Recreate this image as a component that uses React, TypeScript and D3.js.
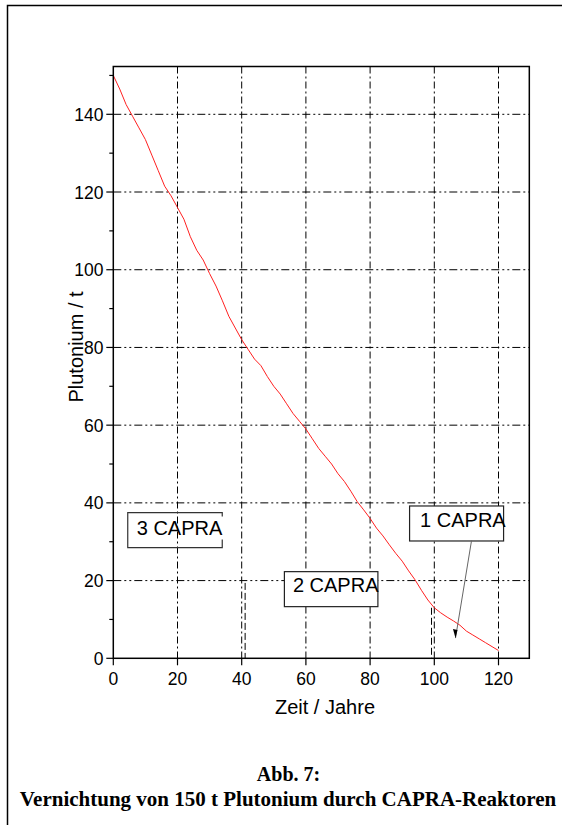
import React from "react";
import * as d3 from "d3";

const years = [0,2,4,6,8,10,12,14,16,18,20,22,24,26,28,30,32,34,36,38,40,42,44,46,48,50,52,54,56,58,60,62,64,66,68,70,72,74,76,78,80,82,84,86,88,90,92,94,96,98,100,102,104,106,108,110,112,114,116,118,120];
const plutonium = [150,146.5,142.5,139.5,136.5,133.5,129.5,125.5,121.5,119,116,113,108.5,105,102.5,99,95.8,92,88,85,82,79.5,77,75.3,72.5,70,68,65.5,63,61,59,56.5,54,52,50,47.5,45.5,43,40.3,38.2,36,33.5,31.5,29.2,27,25,22.5,20.2,17.5,15,13,11.7,10.6,9.6,8.5,7,6,5,4,3,2];
const xTicks = [0,20,40,60,80,100,120];
const yTicks = [0,20,40,60,80,100,120,140];
const yMinor = [10,30,50,70,90,110,130,150];
const gridX = [20,40,60,80,100,120];
const gridY = [20,40,60,80,100,120,140];
const labels = [
  { text: "3 CAPRA", x: 4.5, y: 37.5 },
  { text: "2 CAPRA", x: 53.3, y: 22.3 },
  { text: "1 CAPRA", x: 92.3, y: 39.2 },
];
const boundaries = [40.6, 99.6];

const sans = "'Liberation Sans', Arial, sans-serif";
const serif = "'Liberation Serif', 'Times New Roman', serif";

export default function App() {
  const x = d3.scaleLinear().domain([0, 120]).range([113.3, 498.5]);
  const y = d3.scaleLinear().domain([0, 140]).range([658.3, 114.3]);
  const left = x(0), right = x(129.6), bottom = y(0), top = y(152.3);
  const line = d3.line<number>().x((_, i) => x(years[i])).y((d) => y(d));
  const path = line(plutonium) || "";

  const b3x = x(labels[0].x), b3y = y(labels[0].y);

  return (
    <svg width={562} height={825} style={{ position: "absolute", left: 0, top: 0, background: "#fff" }}>
      <rect x={7.5} y={5.5} width={700} height={900} fill="none" stroke="#000" strokeWidth={1.5} />
      {/* grid */}
      {gridX.map((v) => (
        <line key={"gx" + v} x1={x(v)} x2={x(v)} y1={top} y2={bottom} stroke="#000" strokeWidth={1} strokeDasharray="7,3,2,3" />
      ))}
      {gridY.map((v) => (
        <line key={"gy" + v} x1={left} x2={right} y1={y(v)} y2={y(v)} stroke="#000" strokeWidth={1} strokeDasharray="8,3,2,3,2,3" />
      ))}
      {/* boundary markers */}
      <line x1={x(boundaries[0]) + 1.5} x2={x(boundaries[0]) + 1.5} y1={y(19.4)} y2={bottom} stroke="#000" strokeWidth={1} strokeDasharray="7,3" />
      <line x1={x(boundaries[1]) - 1.5} x2={x(boundaries[1]) - 1.5} y1={y(13)} y2={bottom} stroke="#000" strokeWidth={1} strokeDasharray="7,3" />
      {/* curve */}
      <path d={path} fill="none" stroke="#ff2020" strokeWidth={1} />
      {/* frame */}
      <rect x={left} y={top} width={right - left} height={bottom - top} fill="none" stroke="#000" strokeWidth={1.5} />
      {/* y ticks */}
      {yTicks.map((v) => (
        <g key={"yt" + v}>
          <line x1={left - 7} x2={left} y1={y(v)} y2={y(v)} stroke="#000" strokeWidth={1.2} />
          <text x={103.5} y={y(v) + 6.5} textAnchor="end" fontFamily={sans} fontSize={17.5}>{v}</text>
        </g>
      ))}
      {yMinor.map((v) => (
        <line key={"ym" + v} x1={left - 4} x2={left} y1={y(v)} y2={y(v)} stroke="#000" strokeWidth={1.2} />
      ))}
      {/* x ticks */}
      {xTicks.map((v) => (
        <g key={"xt" + v}>
          <line x1={x(v)} x2={x(v)} y1={bottom} y2={bottom + 7} stroke="#000" strokeWidth={1.2} />
          <text x={x(v)} y={684.5} textAnchor="middle" fontFamily={sans} fontSize={17.5}>{v}</text>
        </g>
      ))}
      {/* axis titles */}
      <text x={325} y={714} textAnchor="middle" fontFamily={sans} fontSize={20}>Zeit / Jahre</text>
      <text transform={`translate(83,347) rotate(-90)`} textAnchor="middle" fontFamily={sans} fontSize={20}>Plutonium / t</text>
      {/* 3 CAPRA box (right edge only partly drawn) */}
      <path d={`M${b3x + 94.5},${b3y + 4} L${b3x + 94.5},${b3y} L${b3x},${b3y} L${b3x},${b3y + 35} L${b3x + 94.5},${b3y + 35} L${b3x + 94.5},${b3y + 27}`}
        fill="none" stroke="#333" strokeWidth={1.2} />
      <text x={b3x + 9} y={b3y + 22.5} fontFamily={sans} fontSize={20}>{labels[0].text}</text>
      {/* 2 CAPRA */}
      <rect x={x(labels[1].x)} y={y(labels[1].y)} width={93.5} height={35} fill="#fff" stroke="#222" strokeWidth={1.2} />
      <text x={x(labels[1].x) + 8.5} y={y(labels[1].y) + 20.8} fontFamily={sans} fontSize={20}>{labels[1].text}</text>
      {/* 1 CAPRA */}
      <rect x={x(labels[2].x)} y={y(labels[2].y)} width={94} height={35} fill="#fff" stroke="#222" strokeWidth={1.2} />
      <text x={x(labels[2].x) + 10.5} y={y(labels[2].y) + 21} fontFamily={sans} fontSize={20}>{labels[2].text}</text>
      {/* arrow */}
      <line x1={x(111.6)} y1={y(30.3)} x2={x(106.6)} y2={y(5.2)} stroke="#666" strokeWidth={1} />
      <path d={`M${x(106.6)},${y(5.2)} l-2.5,-9 l4.5,0.8 z`} fill="#000" />
      {/* caption */}
      <text x={288.5} y={781} textAnchor="middle" fontFamily={serif} fontWeight="bold" fontSize={20}>Abb. 7:</text>
      <text x={288} y={806} textAnchor="middle" fontFamily={serif} fontWeight="bold" fontSize={21}>Vernichtung von 150 t Plutonium durch CAPRA-Reaktoren</text>
    </svg>
  );
}
